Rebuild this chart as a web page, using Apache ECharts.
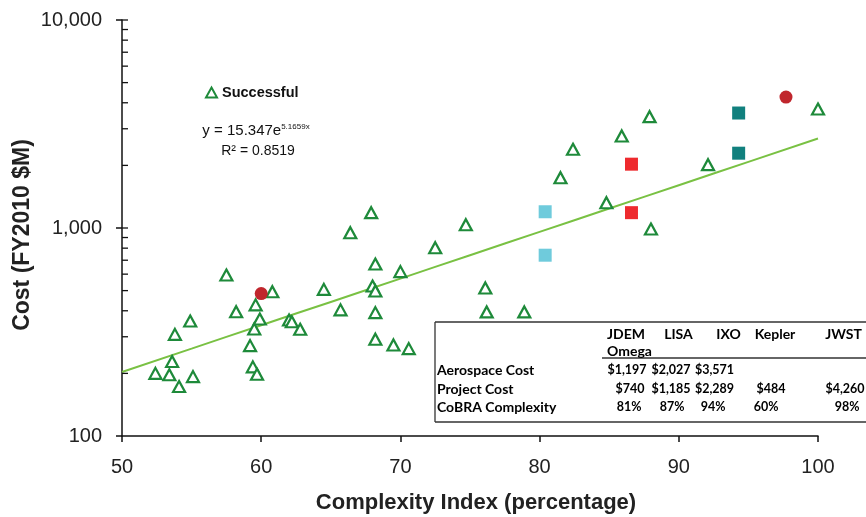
<!DOCTYPE html>
<html><head><meta charset="utf-8">
<script src="https://cdn.jsdelivr.net/npm/echarts@6/dist/echarts.min.js"></script>
<style>html,body{margin:0;padding:0;background:#fff}#c{width:866px;height:517px}</style>
</head><body><div id="c"></div>
<script>
// ---------- data ----------
const xTicks = [50, 60, 70, 80, 90, 100];
const yTicks = [100, 1000, 10000];
const yMinorTicks = [200,300,400,500,600,700,800,900,1000,2000,3000,4000,5000,6000,7000,8000,9000,10000];

// "Successful" missions (complexity %, cost FY2010 $M)
const successX = [52.4,53.4,53.6,53.8,54.1,54.9,55.1,57.5,58.2,59.2,59.4,59.5,59.6,59.7,59.9,60.8,62.0,62.2,62.8,64.5,65.7,66.4,67.9,68.2,68.0,68.2,68.2,68.2,69.5,70.6,70.0,72.5,74.7,76.1,76.2,78.9,81.5,82.4,84.8,85.9,87.9,88.0,92.1,100.0];
const successY = [200,197,228,308,173,357,193,594,396,272,215,327,427,198,365,494,361,354,326,507,404,949,1185,671,526,498,392,292,274,263,617,804,1037,515,395,395,1745,2390,1323,2770,3430,989,2016,3733];

// exponential trend line
const trendX = [50,55,60,65,70,75,80,85,90,95,100];
const trendY = [203,263,341,441,571,740,958,1240,1606,2080,2693];

// missions in the table
const missions = ['JDEM Omega','LISA','IXO','Kepler','JWST'];
const missionX = [80.4, 86.6, 94.3, 60.0, 97.7];
const aerospaceCost = [1197, 2027, 3571, null, null];
const projectCost = [740, 1185, 2289, 484, 4260];
const cobraComplexity = ['81%','87%','94%','60%','98%'];

// ---------- styles ----------
const missionColors = ['#6fcbdc','#ee2a2e','#11807e','#c0262d','#c0262d'];
const missionSymbols = ['rect','rect','rect','circle','circle'];
const triGreen = '#1e8a3a';
const lineGreen = '#79c143';
const axisFont = 'Liberation Sans, Arial, Helvetica, sans-serif';
const tableFont = 'Lato, Carlito, Calibri, sans-serif';

// table layout
const T = {left:435, top:322, bottom:422, sepX:602, sepY:358,
  headerY:334, omegaY:351, rowY:[370,389,407], labelX:437,
  headerX:[607,678.5,728.5,775,843.5],
  aeroX:[627,671,714.5], projX:[630,671,714.5,771,845], cplxX:[629,672,713,766,847]};

const fmtMoney = v => '$' + v.toLocaleString('en-US');

const missionData = [];
missions.forEach((m,i)=>{
  const st = {color: missionColors[i], opacity:1};
  if (aerospaceCost[i] != null) missionData.push({name:m, value:[missionX[i], aerospaceCost[i]], symbol:missionSymbols[i], itemStyle:st});
  missionData.push({name:m, value:[missionX[i], projectCost[i]], symbol:missionSymbols[i], itemStyle:st});
});

const tableText = (text, x, y, align, size) => ({type:'text', x, y, style:{text, x:0, y:0, fill:'#000',
  font:'bold ' + (size||14) + 'px ' + tableFont, textAlign:align||'center', textVerticalAlign:'middle'}});
const tableLine = (x1,y1,x2,y2) => ({type:'line', shape:{x1,y1,x2,y2}, style:{stroke:'#333', lineWidth:1.3}});

const tableEls = [
  tableLine(T.left, T.top, 866, T.top),
  tableLine(T.left, T.bottom, 866, T.bottom),
  tableLine(T.left, T.top, T.left, T.bottom),
  tableLine(T.sepX, T.sepY, 866, T.sepY)
];
missions.forEach((m,i)=>{
  if (i === 0) {
    const parts = m.split(' ');
    tableEls.push(tableText(parts[0], T.headerX[0], T.headerY, 'left'));
    tableEls.push(tableText(parts[1], T.headerX[0], T.omegaY, 'left'));
  } else {
    tableEls.push(tableText(m, T.headerX[i], T.headerY));
  }
  if (aerospaceCost[i] != null) tableEls.push(tableText(fmtMoney(aerospaceCost[i]), T.aeroX[i], T.rowY[0], 'center', 12.5));
  tableEls.push(tableText(fmtMoney(projectCost[i]), T.projX[i], T.rowY[1], 'center', 12.5));
  tableEls.push(tableText(cobraComplexity[i], T.cplxX[i], T.rowY[2], 'center', 12.5));
});
['Aerospace Cost','Project Cost','CoBRA Complexity'].forEach((t,k)=>tableEls.push(tableText(t, T.labelX, T.rowY[k], 'left')));

const chart = echarts.init(document.getElementById('c'), null, {renderer:'canvas'});
chart.setOption({
  animation:false,
  backgroundColor:'#fff',
  grid:{left:122, right:48, top:20, bottom:81, containLabel:false, outerBoundsMode:'none'},
  legend:{data:[{name:'Successful', icon:'triangle'}], left:200, top:80, itemWidth:11, itemHeight:10, itemGap:4,
    textStyle:{fontFamily:axisFont, fontWeight:'bold', fontSize:14.5, color:'#111'}},
  xAxis:{type:'value', min:xTicks[0], max:xTicks[xTicks.length-1], interval:10,
    name:'Complexity Index (percentage)', nameLocation:'middle', nameGap:56, nameMoveOverlap:false,
    nameTextStyle:{fontFamily:axisFont, fontWeight:'bold', fontSize:22, color:'#222', padding:[0,0,0,12]},
    axisLine:{onZero:false, lineStyle:{color:'#111', width:1.5}},
    axisTick:{length:6, lineStyle:{color:'#111', width:1.5}},
    axisLabel:{margin:21, fontFamily:axisFont, fontSize:20, color:'#222'},
    splitLine:{show:false}},
  yAxis:{type:'log', logBase:10, min:yTicks[0], max:yTicks[yTicks.length-1],
    name:'Cost (FY2010 $M)', nameLocation:'middle', nameGap:88, nameMoveOverlap:false,
    nameTextStyle:{fontFamily:axisFont, fontWeight:'bold', fontSize:23, color:'#222', padding:[0,14,0,0]},
    axisLine:{lineStyle:{color:'#111', width:1.5}},
    axisTick:{length:6, lineStyle:{color:'#111', width:1.5}},
    axisLabel:{margin:20, fontFamily:axisFont, fontSize:20, color:'#222', formatter:v=>Number(v).toLocaleString('en-US')},
    splitLine:{show:false}},
  graphic:[
    {type:'text', x:256, y:131, style:{text:'{m|y = 15.347e}{s|5.1659x}', x:0, y:0, textAlign:'center', textVerticalAlign:'middle',
      rich:{m:{fontFamily:axisFont, fontSize:15, fill:'#111', color:'#111'}, s:{fontFamily:axisFont, fontSize:8, fill:'#111', color:'#111', verticalAlign:'top', padding:[0,0,8,0]}}}},
    {type:'text', x:258, y:151, style:{text:'R² = 0.8519', x:0, y:0, textAlign:'center', textVerticalAlign:'middle', font:'14px ' + axisFont, fill:'#111'}},
    {type:'group', children: tableEls}
  ],
  series:[
    {type:'line', name:'Trend', data:trendX.map((x,i)=>[x,trendY[i]]), showSymbol:false, symbol:'none', smooth:true,
      lineStyle:{color:lineGreen, width:2}, z:2, silent:true},
    {type:'scatter', name:'Successful', data:successX.map((x,i)=>[x,successY[i]]), symbol:'triangle', symbolSize:[12,11],
      itemStyle:{color:'#fff', borderColor:triGreen, borderWidth:2.2, opacity:1}, z:3},
    {type:'scatter', name:'Missions', data:missionData, symbolSize:13, itemStyle:{opacity:1}, z:4},
    {type:'scatter', name:'minorTicks', data:yMinorTicks.map(v=>[xTicks[0], v]), symbol:'rect', symbolSize:[6,1.3], symbolOffset:[3,0],
      itemStyle:{color:'#111', opacity:1}, clip:false, silent:true, z:5}
  ]
});
</script></body></html>
